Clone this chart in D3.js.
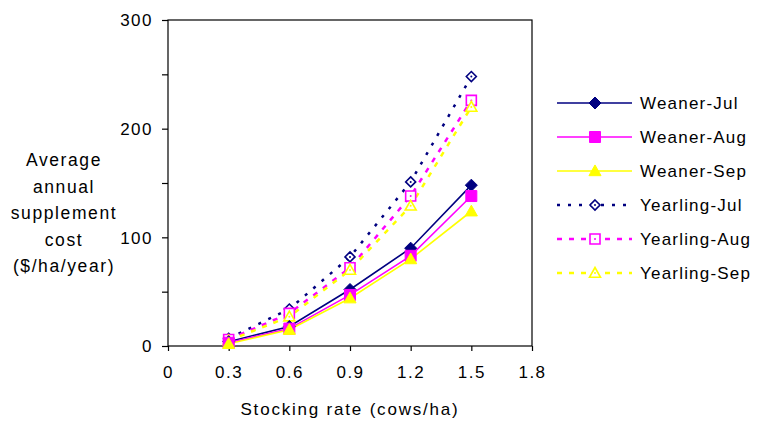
<!DOCTYPE html>
<html><head><meta charset="utf-8">
<script src="https://cdn.jsdelivr.net/npm/d3@7"></script>
<style>
body{margin:0;background:#fff;}
text{font-family:"Liberation Sans",Arial,sans-serif;fill:#000;}
</style></head>
<body><svg id="chart" width="759" height="421"></svg>
<script>
const xValues = [0.3, 0.6, 0.9, 1.2, 1.5];
const seriesNames = ["Weaner-Jul","Weaner-Aug","Weaner-Sep","Yearling-Jul","Yearling-Aug","Yearling-Sep"];
const weanerJul = [4, 18, 52, 90, 148];
const weanerAug = [3, 16, 47, 83, 138];
const weanerSep = [2, 15, 44, 80, 124];
const yearlingJul = [7, 34, 82, 151, 248];
const yearlingAug = [6, 30, 72, 138, 226];
const yearlingSep = [5, 27, 70, 129, 220];
const xTicks = [0, 0.3, 0.6, 0.9, 1.2, 1.5, 1.8];
const yTickLabels = [0, 100, 200, 300];
const yMinorTicks = [0, 50, 100, 150, 200, 250, 300];
const yTitleLines = ["Average","annual","supplement","cost","($/ha/year)"];
const xTitle = "Stocking rate (cows/ha)";

const styles = [
  {color:"#000080", dash:null, marker:"diamond", fill:true},
  {color:"#FF00FF", dash:null, marker:"square", fill:true},
  {color:"#FFFF00", dash:null, marker:"triangle", fill:true},
  {color:"#000080", dash:"3,8", marker:"diamond", fill:false},
  {color:"#FF00FF", dash:"5,7", marker:"square", fill:false},
  {color:"#FFFF00", dash:"5,7", marker:"triangle", fill:false}
];
const allValues = [weanerJul, weanerAug, weanerSep, yearlingJul, yearlingAug, yearlingSep];
const series = seriesNames.map((n,i)=>({name:n, values:allValues[i], style:styles[i]}));

const svg = d3.select("#chart");
const L=168, R=532, T=20, B=346;
const x = d3.scaleLinear().domain([0,1.8]).range([L,R]);
const y = d3.scaleLinear().domain([0,300]).range([B,T]);

// border
svg.append("rect").attr("x",L).attr("y",T).attr("width",R-L).attr("height",B-T)
  .attr("fill","none").attr("stroke","#000").attr("stroke-width",1.2);

// axes
const xAxis = d3.axisBottom(x).tickValues(xTicks).tickSize(5).tickFormat(d3.format(".1~f"));
const gx = svg.append("g").attr("transform",`translate(0,${B})`).call(xAxis);
gx.select(".domain").remove();
gx.selectAll("line").attr("stroke","#000").attr("stroke-width",1.2);
gx.selectAll("text").attr("dy",null).attr("y",32).style("font-size","17px").style("letter-spacing","1.5px")
  .style("font-family","'Liberation Sans',Arial,sans-serif");

const yAxis = d3.axisLeft(y).tickValues(yMinorTicks).tickSize(6)
  .tickFormat(d=> yTickLabels.includes(d) ? d : "");
const gy = svg.append("g").attr("transform",`translate(${L},0)`).call(yAxis);
gy.select(".domain").remove();
gy.selectAll("line").attr("stroke","#000").attr("stroke-width",1.2);
gy.selectAll("text").attr("x",-15).attr("dy","0.35em").style("font-size","17px").style("letter-spacing","1.5px")
  .style("font-family","'Liberation Sans',Arial,sans-serif");

// titles
svg.append("text").attr("x",350).attr("y",415).attr("text-anchor","middle")
  .style("font-size","17px").style("letter-spacing","1.8px").text(xTitle);
const yt = svg.append("text").attr("text-anchor","middle").style("font-size","17.5px").style("letter-spacing","1.6px");
yTitleLines.forEach((t,i)=>{
  yt.append("tspan").attr("x",64).attr("y",166+i*26.5).text(t);
});

function markerPath(type, s){
  if(type==="diamond") return `M0,${-s}L${s},0L0,${s}L${-s},0Z`;
  if(type==="square") return `M${-s},${-s}H${s}V${s}H${-s}Z`;
  return `M0,${-s*1.1}L${s*1.1},${s*0.85}L${-s*1.1},${s*0.85}Z`;
}
function drawMarker(g, st, cx, cy){
  const s = st.marker==="diamond" ? 6 : 5.5;
  const m = g.append("g").attr("transform",`translate(${cx},${cy})`);
  m.append("path").attr("d",markerPath(st.marker, st.fill? s : 5))
    .attr("fill", st.fill? st.color : "#fff").attr("stroke",st.color).attr("stroke-width", st.fill?1:1.6);
  if(!st.fill) m.append("circle").attr("r",1).attr("fill",st.color);
}

const line = d3.line().x((d,i)=>x(xValues[i])).y(d=>y(d));
// draw yearling first (behind), then weaner
const order = [3,4,5,0,1,2];
order.forEach(k=>{
  const s = series[k];
  svg.append("path").datum(s.values).attr("d",line).attr("fill","none")
    .attr("stroke",s.style.color).attr("stroke-width", s.style.dash?2.5:1.6)
    .attr("stroke-dasharray", s.style.dash);
});
order.forEach(k=>{
  const s = series[k];
  const g = svg.append("g");
  s.values.forEach((v,i)=>drawMarker(g, s.style, x(xValues[i]), y(v)));
});

// legend
const lg = svg.append("g");
series.forEach((s,i)=>{
  const yy = 103 + i*34;
  lg.append("line").attr("x1",557).attr("x2",632).attr("y1",yy).attr("y2",yy)
    .attr("stroke",s.style.color).attr("stroke-width", s.style.dash?2.5:1.6)
    .attr("stroke-dasharray", s.style.dash);
  drawMarker(lg, s.style, 595, yy);
  lg.append("text").attr("x",640).attr("y",yy).attr("dy","0.35em")
    .style("font-size","17px").style("letter-spacing","1.2px").text(s.name);
});
</script></body></html>
